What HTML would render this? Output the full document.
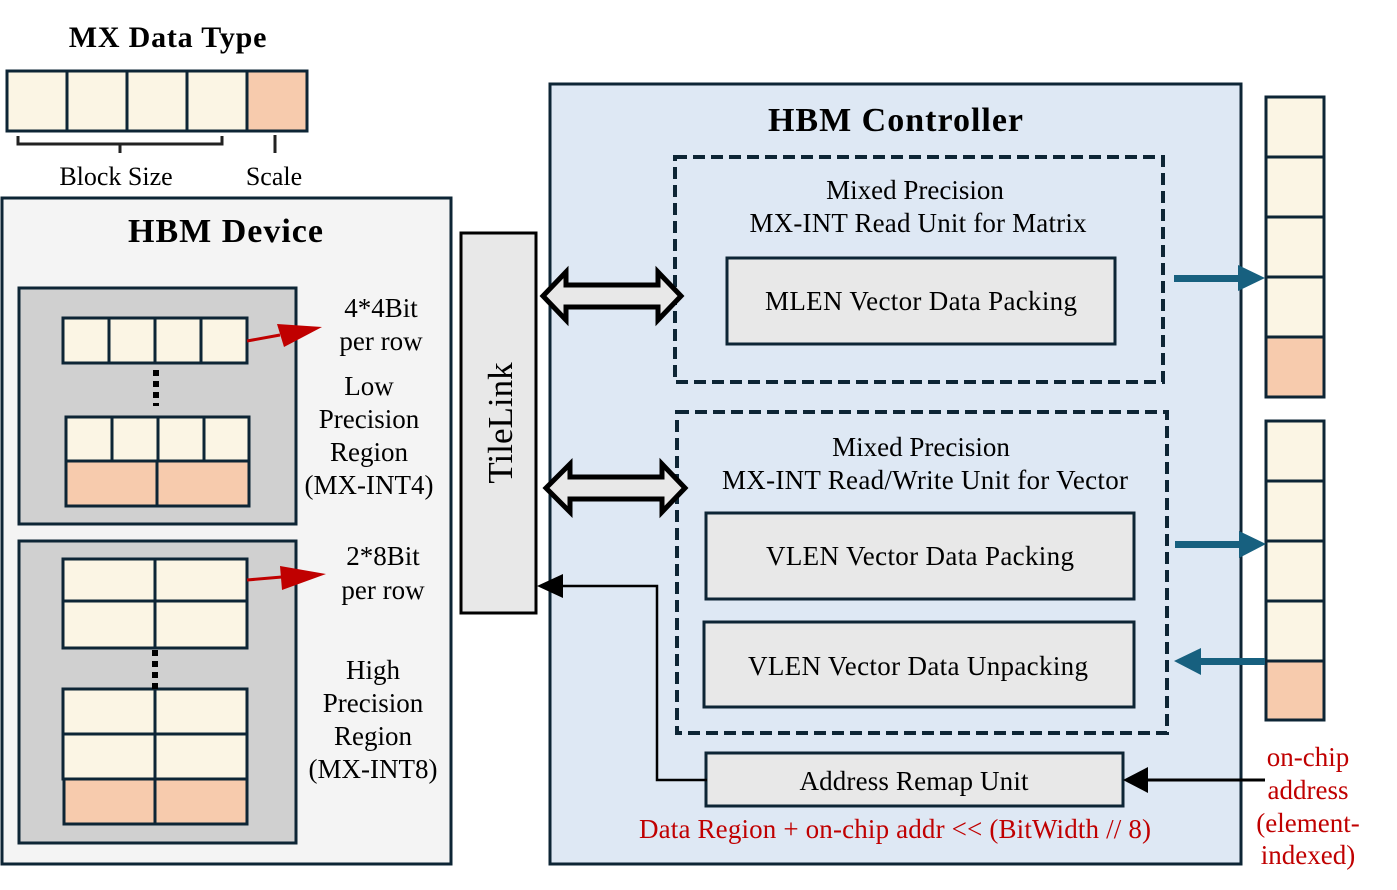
<!DOCTYPE html>
<html><head><meta charset="utf-8"><style>
html,body{margin:0;padding:0;background:#fff;}
svg{display:block;font-family:"Liberation Serif",serif;}
</style></head><body>
<svg width="1397" height="890" viewBox="0 0 1397 890" xmlns="http://www.w3.org/2000/svg">
<g stroke="#0d2535" stroke-width="3">
<rect x="7" y="71" width="60" height="60" fill="#fbf5e4"/>
<rect x="67" y="71" width="60" height="60" fill="#fbf5e4"/>
<rect x="127" y="71" width="60" height="60" fill="#fbf5e4"/>
<rect x="187" y="71" width="60" height="60" fill="#fbf5e4"/>
<rect x="247" y="71" width="60" height="60" fill="#f7cbad"/>
</g>
<path d="M18,136 V144 H222 V136 M120,144 V153 M275,135 V153" fill="none" stroke="#222" stroke-width="3"/>
<text x="168" y="47" font-size="30" font-weight="bold" text-anchor="middle" letter-spacing="0.8">MX Data Type</text>
<text x="116" y="185" font-size="26" text-anchor="middle">Block Size</text>
<text x="274" y="185" font-size="26" text-anchor="middle">Scale</text>

<rect x="2" y="198" width="449" height="666" fill="#f4f4f4" stroke="#0d2535" stroke-width="3"/>
<text x="226" y="242" font-size="34" font-weight="bold" text-anchor="middle" letter-spacing="1">HBM Device</text>
<g stroke="#0d2535" stroke-width="3">
<rect x="19" y="288" width="277" height="236" fill="#d0d0d0"/>
<rect x="19" y="541" width="277" height="302" fill="#d0d0d0"/>
<g fill="#fbf5e4">
<rect x="63" y="318" width="46" height="45"/><rect x="109" y="318" width="46" height="45"/><rect x="155" y="318" width="46" height="45"/><rect x="201" y="318" width="46" height="45"/>
<rect x="66" y="417" width="46" height="44"/><rect x="112" y="417" width="46" height="44"/><rect x="158" y="417" width="46" height="44"/><rect x="204" y="417" width="45" height="44"/>
<rect x="63" y="559" width="92" height="42"/><rect x="155" y="559" width="92" height="42"/>
<rect x="63" y="601" width="92" height="47"/><rect x="155" y="601" width="92" height="47"/>
<rect x="63" y="689" width="92" height="45"/><rect x="155" y="689" width="92" height="45"/>
<rect x="63" y="734" width="92" height="45"/><rect x="155" y="734" width="92" height="45"/>
</g>
<g fill="#f7cbad">
<rect x="66" y="461" width="91" height="45"/><rect x="157" y="461" width="92" height="45"/>
<rect x="64" y="779" width="91" height="45"/><rect x="155" y="779" width="92" height="45"/>
</g>
</g>
<path d="M156,370 V406" stroke="#000" stroke-width="6" stroke-dasharray="6,5"/>
<path d="M155,650 V690" stroke="#000" stroke-width="6" stroke-dasharray="6,5"/>
<path d="M247,341 L280,335" stroke="#c00000" stroke-width="3"/>
<polygon points="322,327 277,324 284,347" fill="#c00000"/>
<path d="M247,580 L282,577" stroke="#c00000" stroke-width="3"/>
<polygon points="326,574 280,566 282,590" fill="#c00000"/>
<g font-size="27" text-anchor="middle">
<text x="381" y="317">4*4Bit</text><text x="381" y="350">per row</text>
<text x="369" y="395">Low</text><text x="369" y="428">Precision</text><text x="369" y="461">Region</text><text x="369" y="494">(MX-INT4)</text>
<text x="383" y="565">2*8Bit</text><text x="383" y="599">per row</text>
<text x="373" y="679">High</text><text x="373" y="712">Precision</text><text x="373" y="745">Region</text><text x="373" y="778">(MX-INT8)</text>
</g>

<rect x="461" y="233" width="75" height="380" fill="#e8e8e8" stroke="#000" stroke-width="3"/>
<text x="0" y="0" font-size="35" text-anchor="middle" transform="translate(512,423) rotate(-90)">TileLink</text>

<rect x="550" y="84" width="691" height="780" fill="#dee8f4" stroke="#0d2535" stroke-width="3"/>
<text x="896" y="131" font-size="34" font-weight="bold" text-anchor="middle" letter-spacing="1">HBM Controller</text>
<rect x="675" y="157" width="488" height="225" fill="none" stroke="#0d2535" stroke-width="4" stroke-dasharray="12,6"/>
<rect x="677" y="412" width="490" height="321" fill="none" stroke="#0d2535" stroke-width="4" stroke-dasharray="12,6"/>
<g font-size="27" text-anchor="middle">
<text x="915" y="199">Mixed Precision</text>
<text x="918" y="232" textLength="337">MX-INT Read Unit for Matrix</text>
<text x="921" y="456">Mixed Precision</text>
<text x="925" y="489" textLength="406">MX-INT Read/Write Unit for Vector</text>
</g>
<g fill="#e8e8e8" stroke="#0d2535" stroke-width="3">
<rect x="727" y="258" width="388" height="86"/>
<rect x="706" y="513" width="428" height="86"/>
<rect x="704" y="622" width="430" height="85"/>
<rect x="706" y="753" width="417" height="53"/>
</g>
<g font-size="27" text-anchor="middle">
<text x="921" y="310" textLength="312">MLEN Vector Data Packing</text>
<text x="920" y="565" textLength="308">VLEN Vector Data Packing</text>
<text x="918" y="675" textLength="340">VLEN Vector Data Unpacking</text>
<text x="914" y="790" textLength="229">Address Remap Unit</text>
</g>
<text x="895" y="838" font-size="27" text-anchor="middle" fill="#c00000" textLength="512">Data Region + on-chip addr &lt;&lt; (BitWidth // 8)</text>

<polygon points="543,296 566,272 566,285 658,285 658,272 681,296 658,320 658,307 566,307 566,320" fill="#e8e8e8" stroke="#000" stroke-width="5"/>
<polygon points="546,488 570,464 570,477 662,477 662,464 685,488 662,512 662,499 570,499 570,512" fill="#e8e8e8" stroke="#000" stroke-width="5"/>

<path d="M707,780 H657 V586 H560" fill="none" stroke="#000" stroke-width="2.5"/>
<polygon points="537,586 563,574 563,598" fill="#000"/>
<path d="M1265,780 H1145" stroke="#000" stroke-width="3"/>
<polygon points="1123,780 1148,767 1148,793" fill="#000"/>

<g stroke="#0d2535" stroke-width="3">
<rect x="1266" y="97" width="58" height="60" fill="#fbf5e4"/>
<rect x="1266" y="157" width="58" height="60" fill="#fbf5e4"/>
<rect x="1266" y="217" width="58" height="60" fill="#fbf5e4"/>
<rect x="1266" y="277" width="58" height="60" fill="#fbf5e4"/>
<rect x="1266" y="337" width="58" height="60" fill="#f7cbad"/>
<rect x="1266" y="421" width="58" height="60" fill="#fbf5e4"/>
<rect x="1266" y="481" width="58" height="60" fill="#fbf5e4"/>
<rect x="1266" y="541" width="58" height="60" fill="#fbf5e4"/>
<rect x="1266" y="601" width="58" height="60" fill="#fbf5e4"/>
<rect x="1266" y="661" width="58" height="59" fill="#f7cbad"/>
</g>
<g fill="#17607f">
<rect x="1174" y="275" width="66" height="7"/><polygon points="1238,265 1265,278 1238,291"/>
<rect x="1175" y="541" width="66" height="7"/><polygon points="1239,531 1266,544 1239,558"/>
<rect x="1200" y="658" width="65" height="7"/><polygon points="1174,661 1201,648 1201,675"/>
</g>
<g font-size="27" text-anchor="middle" fill="#c00000">
<text x="1308" y="766">on-chip</text><text x="1308" y="799">address</text><text x="1308" y="832">(element-</text><text x="1308" y="864">indexed)</text>
</g>
</svg>
</body></html>
